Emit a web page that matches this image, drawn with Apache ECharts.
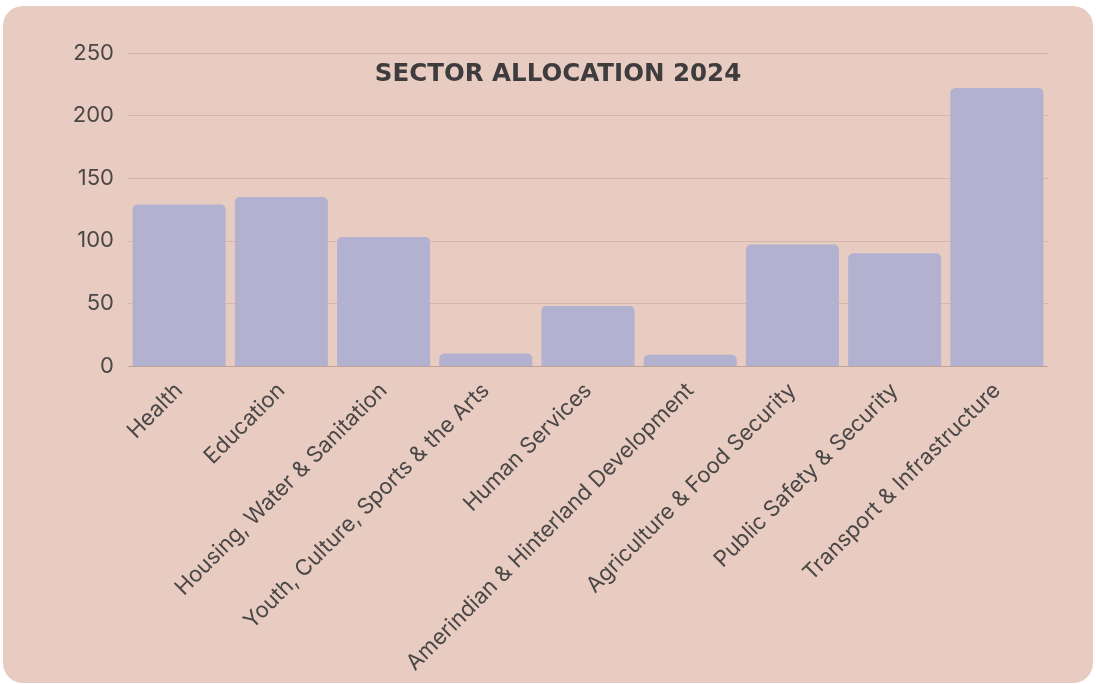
<!DOCTYPE html>
<html>
<head>
<meta charset="utf-8">
<script src="https://cdn.jsdelivr.net/npm/echarts@6/dist/echarts.min.js"></script>
<style>
  html, body { margin: 0; padding: 0; background: #fff; }
  #card {
    position: absolute; left: 3px; top: 6px; width: 1090px; height: 677px;
    background: #e8ccc1; border-radius: 20px;
  }
  #chart { position: absolute; left: 0; top: 0; width: 1096px; height: 684px; }
</style>
</head>
<body>
<div id="card"></div>
<div id="chart"></div>
<script>
const categories = [
  'Health',
  'Education',
  'Housing, Water & Sanitation',
  'Youth, Culture, Sports & the Arts',
  'Human Services',
  'Amerindian & Hinterland Development',
  'Agriculture & Food Security',
  'Public Safety & Security',
  'Transport & Infrastructure'
]
const allocation = [129, 135, 103, 10, 48, 9, 97, 90, 222]
const yTicks = { min: 0, max: 250, interval: 50 }

const chart = echarts.init(document.getElementById('chart'))

const options = {
  backgroundColor: 'transparent',
  animation: false,
  title: {
    text: 'SECTOR ALLOCATION 2024',
    left: 553,
    textAlign: 'center',
    top: 57,
    textStyle: {
      fontFamily: 'DejaVu Sans, sans-serif',
      fontSize: 24.5,
      fontWeight: 'bold',
      color: '#3e3c3c'
    }
  },
  grid: {
    left: 128,
    right: 48,
    top: 53,
    bottom: 318
  },
  xAxis: {
    type: 'category',
    data: categories,
    axisTick: { show: false },
    axisLine: { lineStyle: { color: '#c0a195', width: 1 } },
    axisLabel: {
      rotate: 45,
      interval: 0,
      margin: 21,
      color: '#4a4746',
      fontFamily: 'Inter, sans-serif',
      fontSize: 22
    }
  },
  yAxis: {
    type: 'value',
    min: yTicks.min,
    max: yTicks.max,
    interval: yTicks.interval,
    axisLine: { show: false },
    axisTick: { show: false },
    splitLine: { lineStyle: { color: '#d6b6aa', width: 1 } },
    axisLabel: {
      margin: 14,
      color: '#4a4746',
      fontFamily: 'Inter, sans-serif',
      fontSize: 22
    }
  },
  series: [
    {
      type: 'bar',
      data: allocation,
      barCategoryGap: '9%',
      itemStyle: {
        color: '#b2b1cf',
        borderRadius: [5, 5, 0, 0]
      }
    }
  ]
}

chart.setOption(options)
</script>
</body>
</html>
